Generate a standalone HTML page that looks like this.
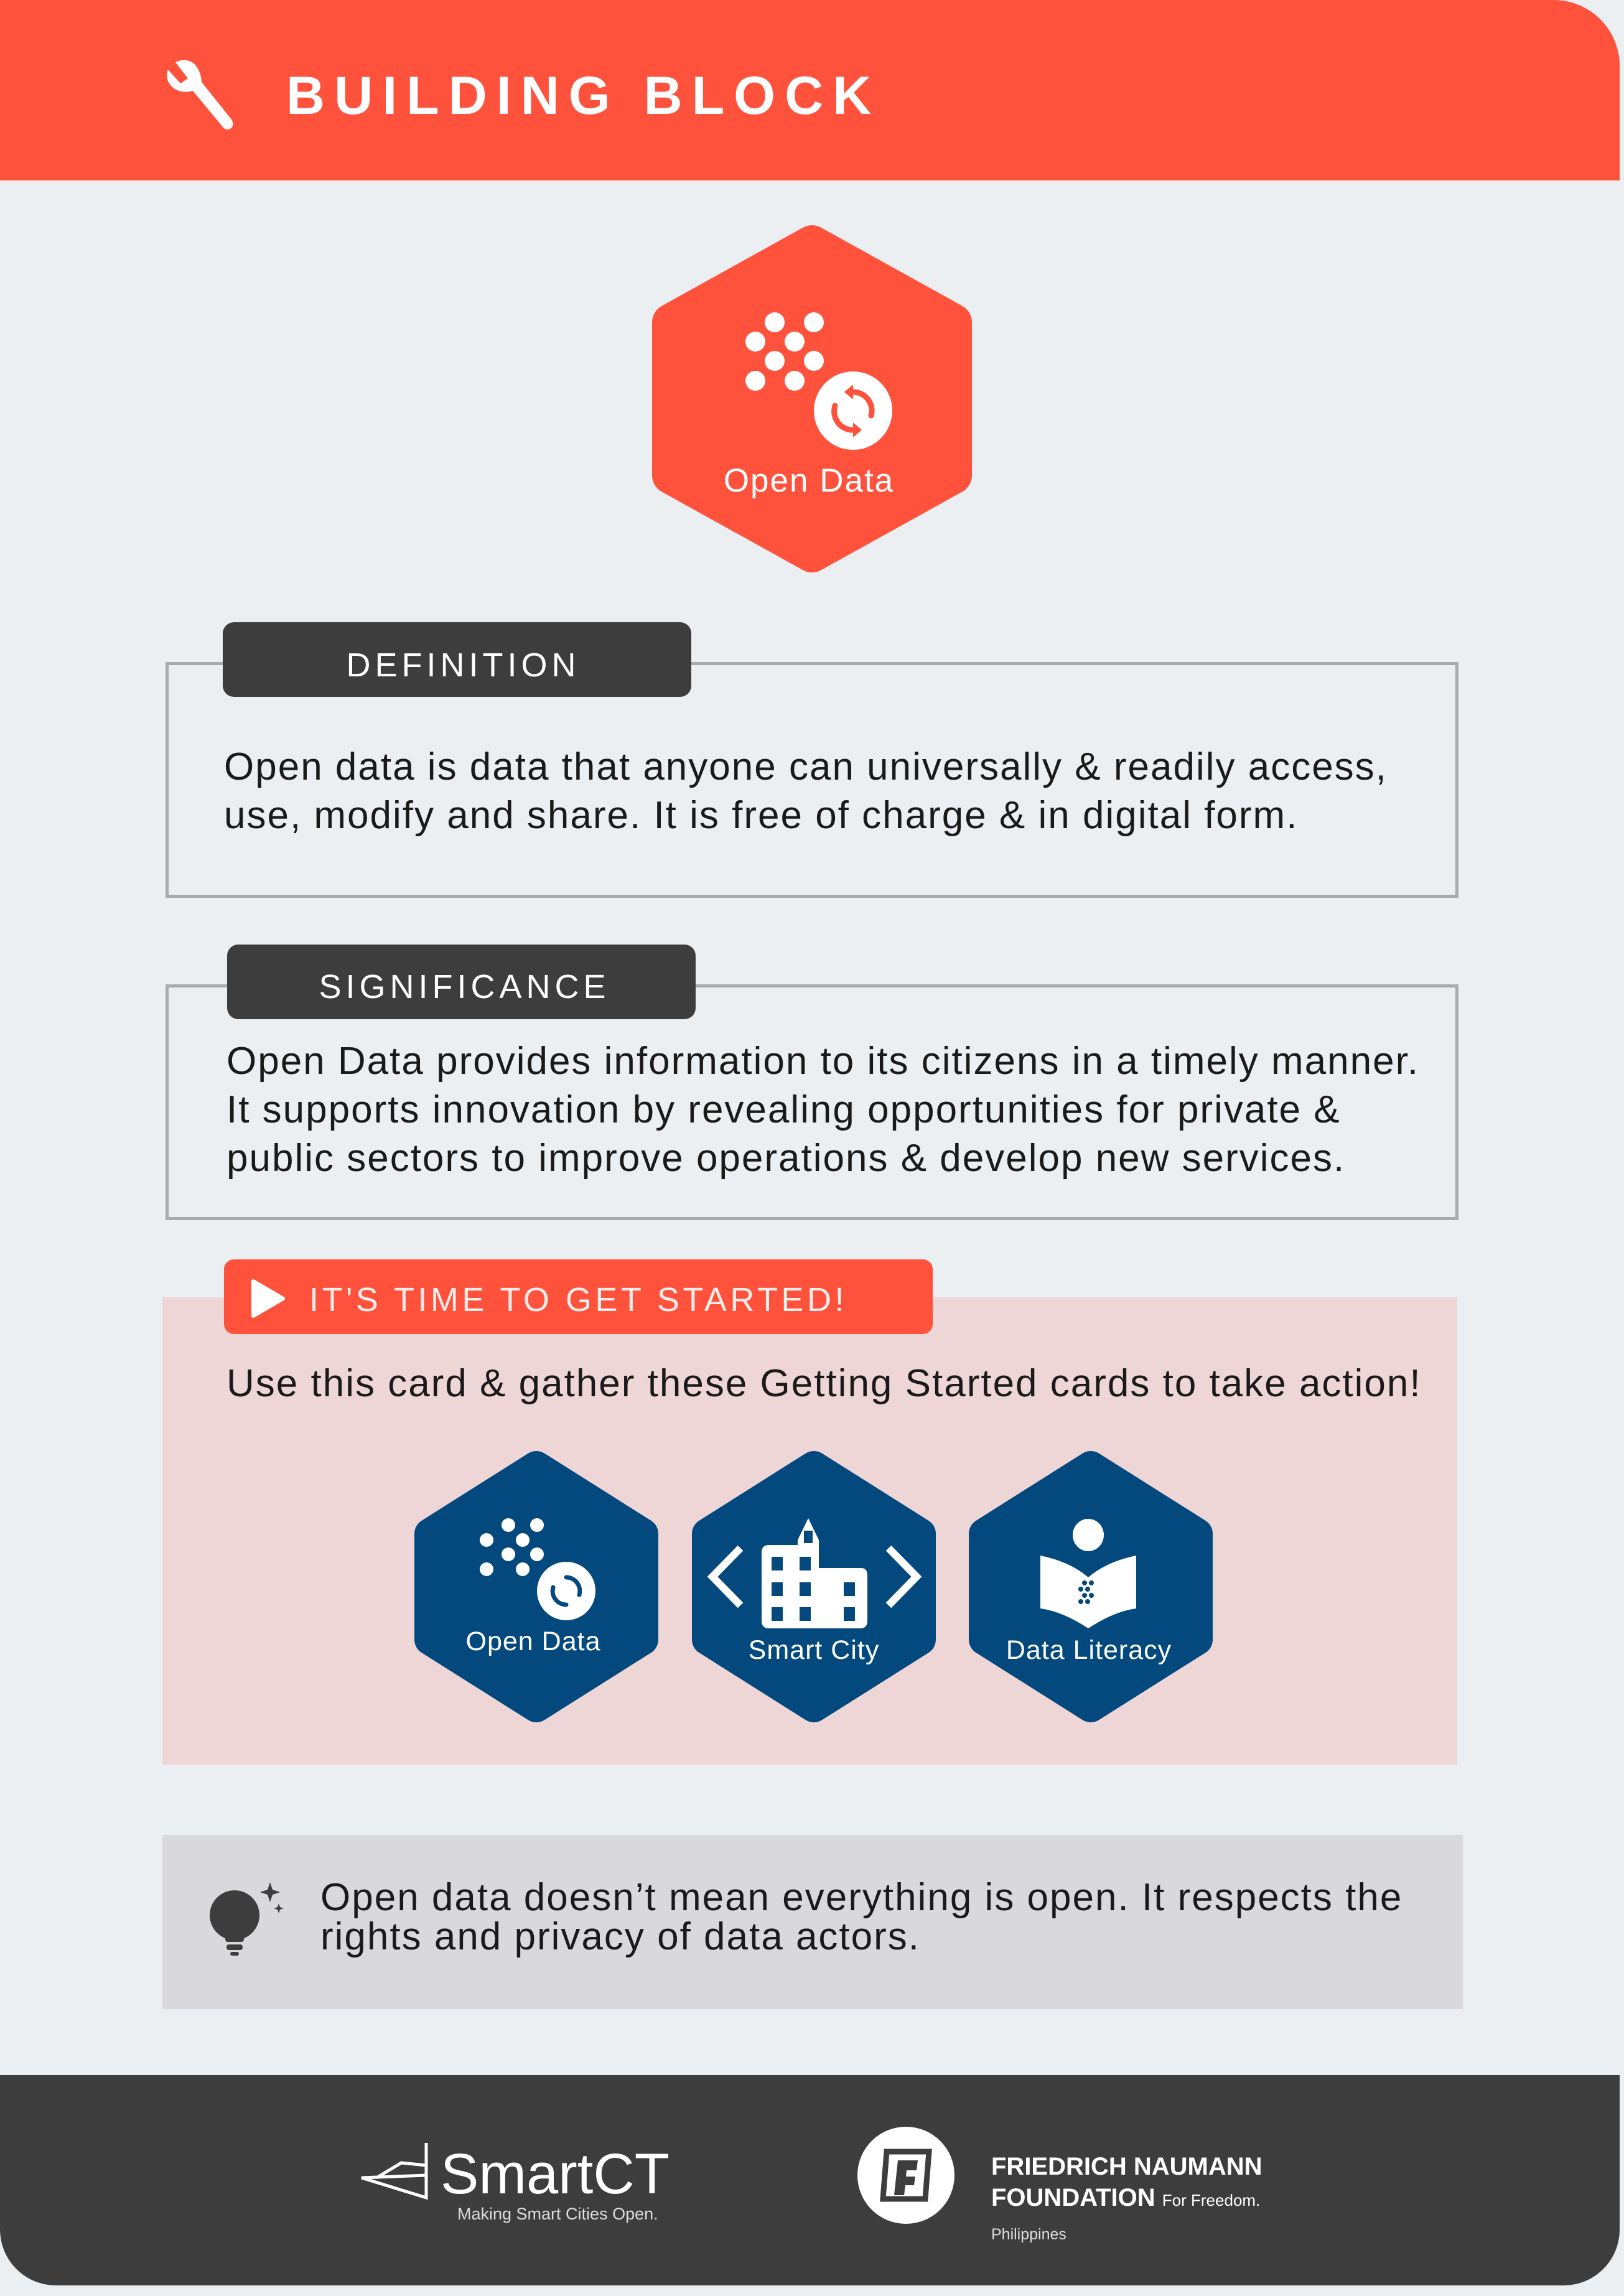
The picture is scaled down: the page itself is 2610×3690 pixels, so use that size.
<!DOCTYPE html>
<html><head><meta charset="utf-8"><style>
*{margin:0;padding:0;box-sizing:border-box}
body{width:2610px;height:3690px;background:#ECEFF2;position:relative;overflow:hidden;font-family:"Liberation Sans",sans-serif}
.a{position:absolute}
.t{position:absolute;white-space:nowrap}
.box{position:absolute;border:5px solid #A8ABAE}
.tab{position:absolute;background:#3D3D3D;border-radius:18px;color:#fff;font-size:54px;letter-spacing:7px;text-align:center}
.body{font-size:62px;letter-spacing:2px;color:#1a1a1a;line-height:78px}
</style></head><body>
<!-- header -->
<div class="a" style="left:0;top:0;width:2603px;height:290px;background:#FF523D;border-top-right-radius:106px"></div>
<svg class="a" style="left:262px;top:92px" width="120" height="118" viewBox="0 0 120 118">
<path d="M20 8 C40 -2 60 10 62 40 L110 100 C118 112 104 122 96 112 L48 54 C20 62 0 40 8 20 L28 42 L40 34 Z" fill="#fff"/>
</svg>
<div class="t" style="left:460px;top:104px;font-size:86px;font-weight:bold;color:#fff;letter-spacing:15px;line-height:100px">BUILDING BLOCK</div>

<!-- big hex -->
<svg class="a" style="left:0;top:0" width="2610" height="1000">
<polygon points="1305,392 1532,518 1532,764 1305,890 1078,764 1078,518" fill="#FF523D" stroke="#FF523D" stroke-width="60" stroke-linejoin="round"/>
<g fill="#fff">
<circle cx="1245" cy="518" r="16"/><circle cx="1308" cy="518" r="16"/>
<circle cx="1214" cy="549" r="16"/><circle cx="1277" cy="549" r="16"/>
<circle cx="1245" cy="580" r="16"/><circle cx="1308" cy="580" r="16"/>
<circle cx="1214" cy="612" r="16"/><circle cx="1277" cy="612" r="16"/>
<circle cx="1371" cy="660" r="63"/>
</g>
<g fill="none" stroke="#FF523D" stroke-width="9" stroke-linecap="round">
<path d="M1342 652 A30 30 0 0 0 1371 691"/><path d="M1400 668 A30 30 0 0 0 1371 630"/>
</g>
<path d="M1371 618 L1357 630 L1371 642 Z M1371 679 L1385 691 L1371 703 Z" fill="#FF523D"/>
<text x="1300" y="790" font-family="Liberation Sans" font-size="53" letter-spacing="2" fill="#fff" text-anchor="middle">Open Data</text>
</svg>

<!-- definition -->
<div class="box" style="left:266px;top:1064px;width:2078px;height:379px"></div>
<div class="tab" style="left:358px;top:1000px;width:753px;height:120px;line-height:138px;padding-left:20px">DEFINITION</div>
<div class="t body" style="left:360px;top:1194px">Open data is data that anyone can universally &amp; readily access,<br>use, modify and share. It is free of charge &amp; in digital form.</div>

<!-- significance -->
<div class="box" style="left:266px;top:1582px;width:2078px;height:379px"></div>
<div class="tab" style="left:365px;top:1518px;width:753px;height:120px;line-height:136px;padding-left:10px">SIGNIFICANCE</div>
<div class="t body" style="left:364px;top:1667px">Open Data provides information to its citizens in a timely manner.<br>It supports innovation by revealing opportunities for private &amp;<br>public sectors to improve operations &amp; develop new services.</div>

<!-- get started -->
<div class="a" style="left:261px;top:2085px;width:2081px;height:751px;background:#EFD6D6"></div>
<div class="a" style="left:360px;top:2024px;width:1139px;height:120px;background:#FF523D;border-radius:16px"></div>
<svg class="a" style="left:403px;top:2055px" width="56" height="64"><path d="M4 4 L52 32 L4 60 Z" fill="#fff" stroke="#fff" stroke-width="6" stroke-linejoin="round"/></svg>
<div class="t" style="left:497px;top:2056px;font-size:54px;letter-spacing:5.5px;color:#FDEDEA;line-height:66px">IT'S TIME TO GET STARTED!</div>
<div class="t body" style="left:364px;top:2185px">Use this card &amp; gather these Getting Started cards to take action!</div>

<svg class="a" style="left:0;top:2300px" width="2610" height="500" viewBox="0 2300 2610 500">
<g fill="#03497E" stroke="#03497E" stroke-width="50" stroke-linejoin="round">
<polygon points="862,2357 1033,2465 1033,2635 862,2743 691,2635 691,2465"/>
<polygon points="1308,2357 1479,2465 1479,2635 1308,2743 1137,2635 1137,2465"/>
<polygon points="1753,2357 1924,2465 1924,2635 1753,2743 1582,2635 1582,2465"/>
</g>
<g fill="#fff">
<circle cx="817" cy="2451" r="11"/><circle cx="863" cy="2451" r="11"/>
<circle cx="782" cy="2475" r="11"/><circle cx="840" cy="2475" r="11"/>
<circle cx="817" cy="2498" r="11"/><circle cx="863" cy="2498" r="11"/>
<circle cx="782" cy="2522" r="11"/><circle cx="840" cy="2522" r="11"/>
<circle cx="910" cy="2557" r="47"/>
</g>
<g fill="none" stroke="#03497E" stroke-width="7" stroke-linecap="round">
<path d="M889 2551 A22 22 0 0 0 910 2579"/><path d="M931 2563 A22 22 0 0 0 910 2535"/>
</g>
<text x="857" y="2652" font-family="Liberation Sans" font-size="43" letter-spacing="1" fill="#fff" text-anchor="middle">Open Data</text>
<!-- smart city -->
<g fill="#fff">
<path d="M1299 2440 L1316 2475 L1316 2520 L1384 2520 Q1394 2520 1394 2532 L1394 2605 Q1394 2617 1382 2617 L1236 2617 Q1224 2617 1224 2605 L1224 2495 Q1224 2483 1236 2483 L1282 2483 L1282 2475 Z"/>
</g>
<g fill="#03497E">
<rect x="1292" y="2460" width="14" height="20"/>
<rect x="1240" y="2502" width="18" height="22"/><rect x="1285" y="2502" width="18" height="22"/>
<rect x="1240" y="2543" width="18" height="22"/><rect x="1285" y="2543" width="18" height="22"/><rect x="1356" y="2543" width="18" height="22"/>
<rect x="1240" y="2583" width="18" height="22"/><rect x="1285" y="2583" width="18" height="22"/><rect x="1356" y="2583" width="18" height="22"/>
</g>
<g fill="none" stroke="#fff" stroke-width="12">
<path d="M1190 2488 L1145 2534 L1190 2580"/><path d="M1428 2488 L1473 2534 L1428 2580"/>
</g>
<text x="1308" y="2666" font-family="Liberation Sans" font-size="43" letter-spacing="1" fill="#fff" text-anchor="middle">Smart City</text>
<!-- data literacy -->
<ellipse cx="1749" cy="2467" rx="25" ry="26" fill="#fff"/>
<path d="M1672 2500 Q1720 2510 1749 2535 Q1778 2510 1826 2500 L1826 2585 Q1790 2590 1749 2617 Q1708 2590 1672 2585 Z" fill="#fff"/>
<g fill="#03497E">
<circle cx="1743" cy="2544" r="4"/><circle cx="1754" cy="2544" r="4"/>
<circle cx="1737" cy="2554" r="4"/><circle cx="1748" cy="2554" r="4"/>
<circle cx="1743" cy="2564" r="4"/><circle cx="1754" cy="2564" r="4"/>
<circle cx="1737" cy="2574" r="4"/><circle cx="1748" cy="2574" r="4"/>
</g>
<text x="1750" y="2666" font-family="Liberation Sans" font-size="43" letter-spacing="1" fill="#fff" text-anchor="middle">Data Literacy</text>
</svg>

<!-- tip -->
<div class="a" style="left:261px;top:2949px;width:2090px;height:280px;background:#D9D9DB"></div>
<svg class="a" style="left:330px;top:3015px" width="140" height="140">
<circle cx="47" cy="63" r="40" fill="#3D3D3D"/>
<rect x="32" y="96" width="30" height="10" rx="4" fill="#3D3D3D"/>
<rect x="34" y="110" width="26" height="9" rx="4" fill="#3D3D3D"/>
<rect x="40" y="122" width="14" height="6" rx="3" fill="#3D3D3D"/>
<path d="M104 10 L108 22 L120 26 L108 30 L104 42 L100 30 L88 26 L100 22 Z" fill="#3D3D3D"/>
<path d="M118 44 L120 50 L126 52 L120 54 L118 60 L116 54 L110 52 L116 50 Z" fill="#3D3D3D"/>
</svg>
<div class="t" style="left:515px;top:3018px;font-size:62px;letter-spacing:2px;line-height:63px;color:#1a1a1a">Open data doesn’t mean everything is open. It respects the<br>rights and privacy of data actors.</div>

<!-- footer -->
<div class="a" style="left:0;top:3335px;width:2603px;height:338px;background:#3D3D3D;border-bottom-left-radius:90px;border-bottom-right-radius:90px"></div>
<svg class="a" style="left:575px;top:3440px" width="120" height="100">
<g fill="none" stroke="#fff" stroke-width="5"><path d="M110 4 L110 92 L6 60 L110 56 M30 60 L70 36 L110 40"/></g>
</svg>
<div class="t" style="left:708px;top:3444px;font-size:92px;color:#fff;line-height:100px;font-weight:300">SmartCT</div>
<div class="t" style="left:735px;top:3543px;font-size:27px;color:#ddd">Making Smart Cities Open.</div>
<svg class="a" style="left:1375px;top:3416px" width="162" height="160">
<circle cx="81" cy="80" r="78" fill="#fff"/>
<path d="M50 42 L118 42 L112 118 L44 118 Z" fill="none" stroke="#3D3D3D" stroke-width="9"/>
<path d="M68 56 L100 56 L98 72 L82 72 L81 82 L96 82 L94 96 L80 96 L78 112 L62 112 Z" fill="#3D3D3D"/>
</svg>
<div class="t" style="left:1593px;top:3458px;font-size:40px;font-weight:bold;color:#fff;line-height:48px">FRIEDRICH NAUMANN</div>
<div class="t" style="left:1593px;top:3508px;font-size:40px;font-weight:bold;color:#fff;line-height:48px">FOUNDATION <span style="font-size:26px;font-weight:normal">For Freedom.</span></div>
<div class="t" style="left:1593px;top:3577px;font-size:25px;color:#ddd">Philippines</div>
</body></html>
